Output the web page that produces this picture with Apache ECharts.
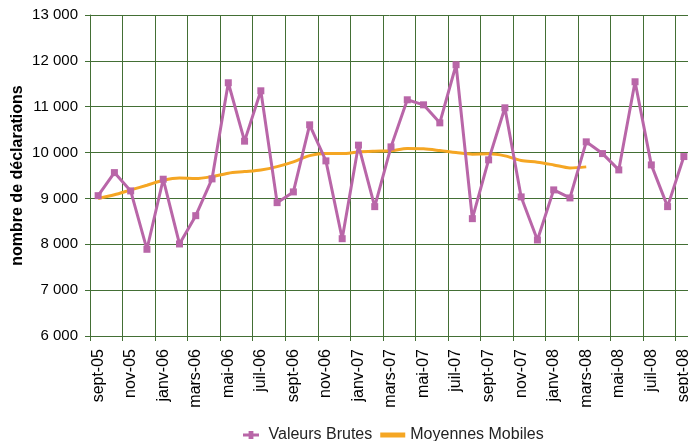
<!DOCTYPE html>
<html>
<head>
<meta charset="utf-8">
<script src="https://cdn.jsdelivr.net/npm/echarts@6/dist/echarts.min.js"></script>
<style>
  html, body { margin: 0; padding: 0; background: #fff; }
  #chart { width: 688px; height: 441px; }
</style>
</head>
<body>
<div id="chart"></div>
<script>
    // mois de sept-05 à sept-08
    const months = [
        'sept-05', 'oct-05', 'nov-05', 'déc-05', 'janv-06', 'févr-06', 'mars-06', 'avr-06',
        'mai-06', 'juin-06', 'juil-06', 'août-06', 'sept-06', 'oct-06', 'nov-06', 'déc-06',
        'janv-07', 'févr-07', 'mars-07', 'avr-07', 'mai-07', 'juin-07', 'juil-07', 'août-07',
        'sept-07', 'oct-07', 'nov-07', 'déc-07', 'janv-08', 'févr-08', 'mars-08', 'avr-08',
        'mai-08', 'juin-08', 'juil-08', 'août-08', 'sept-08'
    ];

    const valeursBrutes = [
        9060, 9563, 9164, 7891, 9419, 8007, 8624, 9426,
        11522, 10249, 11347, 8908, 9142, 10605, 9819, 8122,
        10162, 8821, 10124, 11151, 11041, 10648, 11915, 8559,
        9841, 10976, 9033, 8094, 9186, 9011, 10234, 9978,
        9622, 11544, 9731, 8821, 9913
    ];

    const moyennesMobiles = [
        9000, 9080, 9186, 9288, 9397, 9448, 9432, 9476,
        9550, 9585, 9622, 9694, 9797, 9934, 9978, 9978,
        10015, 10031, 10040, 10087, 10081, 10044, 10000, 9965,
        9972, 9928, 9825, 9790, 9731, 9666, 9688
    ];

    const gridColor = '#436f35';
    const font = 'Liberation Sans, Arial, sans-serif';

    const chart = echarts.init(document.getElementById('chart'));
    chart.setOption({
        animation: false,
        grid: {
            left: 90,
            right: -4,
            top: 15,
            bottom: 105,
            containLabel: false,
            outerBoundsMode: 'none'
        },
        legend: {
            top: 422,
            left: 238,
            itemWidth: 25,
            itemHeight: 8,
            itemGap: 8,
            textStyle: {fontFamily: font, fontSize: 16, color: '#222'},
            data: [
                {name: 'Valeurs Brutes', icon: 'path://M0,3H10V5H0Z M3.5,1.5H6.5V6.5H3.5Z'},
                {name: 'Moyennes Mobiles', icon: 'path://M0,3H10V5H0Z'}
            ]
        },
        xAxis: {
            type: 'category',
            data: months,
            boundaryGap: true,
            axisLine: {lineStyle: {color: gridColor}},
            axisTick: {show: true, interval: 1, length: 5, lineStyle: {color: gridColor}},
            splitLine: {show: true, interval: 1, lineStyle: {color: gridColor, width: 1}},
            axisLabel: {
                interval: 1,
                rotate: 90,
                margin: 13,
                color: '#000',
                fontFamily: font,
                fontSize: 16
            }
        },
        yAxis: {
            type: 'value',
            min: 6000,
            max: 13000,
            interval: 1000,
            name: 'nombre de déclarations',
            nameLocation: 'middle',
            nameGap: 64,
            nameMoveOverlap: false,
            nameTextStyle: {fontFamily: font, fontSize: 16, fontWeight: 'bold', color: '#000'},
            axisLine: {show: true, lineStyle: {color: gridColor}},
            axisTick: {show: true, length: 5, lineStyle: {color: gridColor}},
            splitLine: {lineStyle: {color: gridColor, width: 1}},
            axisLabel: {
                color: '#000',
                fontFamily: font,
                fontSize: 15,
                margin: 12,
                formatter: v => String(v).replace(/\B(?=(\d{3})+(?!\d))/g, ' ')
            }
        },
        series: [
            {
                name: 'Valeurs Brutes',
                type: 'line',
                data: valeursBrutes,
                symbol: 'rect',
                symbolSize: 7,
                lineStyle: {color: '#b966a8', width: 3},
                itemStyle: {color: '#b966a8'},
                z: 3
            },
            {
                name: 'Moyennes Mobiles',
                type: 'line',
                data: moyennesMobiles,
                symbol: 'none',
                smooth: 0.3,
                lineStyle: {color: '#f5a623', width: 3},
                itemStyle: {color: '#f5a623'},
                z: 2
            }
        ]
    });
</script>
</body>
</html>
